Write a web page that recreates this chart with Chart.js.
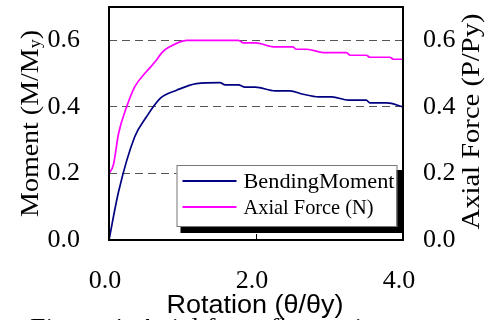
<!DOCTYPE html>
<html>
<head>
<meta charset="utf-8">
<script src="https://cdn.jsdelivr.net/npm/chart.js@4"></script>
<style>
  html, body { margin: 0; padding: 0; background: #fff; }
  #wrap { width: 496px; height: 320px; position: relative; }
</style>
</head>
<body>
<div id="wrap"><canvas id="c" width="496" height="320"></canvas></div>
<script>
// ---- data ----
const momentRotation = [0.0, 0.13, 0.35, 0.51, 0.70, 0.92, 1.19, 1.51, 1.58, 1.76, 1.85, 1.99, 2.26, 2.46, 2.64, 2.85, 3.03, 3.26, 3.50, 3.55, 3.78, 4.0];
const momentValues   = [0.0, 0.145, 0.31, 0.37, 0.426, 0.45, 0.47, 0.473, 0.466, 0.466, 0.459, 0.459, 0.448, 0.448, 0.438, 0.43, 0.43, 0.42, 0.42, 0.412, 0.412, 0.40];
const axialRotation  = [0.0, 0.06, 0.13, 0.24, 0.35, 0.51, 0.63, 0.72, 0.83, 1.06, 1.76, 1.83, 1.99, 2.26, 2.50, 2.55, 2.69, 2.92, 3.23, 3.28, 3.50, 3.55, 3.82, 3.87, 4.0];
const axialValues    = [0.20, 0.226, 0.32, 0.40, 0.46, 0.506, 0.536, 0.563, 0.581, 0.60, 0.60, 0.592, 0.592, 0.58, 0.58, 0.573, 0.573, 0.563, 0.563, 0.555, 0.555, 0.549, 0.549, 0.543, 0.543];
const seriesLabels   = ["BendingMoment", "Axial Force (N)"];
const xTickValues    = [0, 2, 4];
const yTickValues    = [0, 0.2, 0.4, 0.6];
const leftTitle      = ["Moment (M/M", "y", ")"];
const rightTitle     = "Axial Force (P/Py)";
const bottomTitle    = "Rotation (θ/θy)";
const captionText    = "Figure 4: Axial force fluctuation";

const SERIF = "'Liberation Serif', 'Times New Roman', serif";
const SANS = "'Liberation Sans', Arial, sans-serif";

function toPoints(xs, ys) { return xs.map((x, i) => ({ x: x, y: ys[i] })); }

function fitText(ctx, text, x, y, width, font, align) {
  ctx.save();
  ctx.font = font;
  const w = ctx.measureText(text).width;
  const s = width / w;
  ctx.translate(x, y);
  ctx.scale(s, 1);
  ctx.textAlign = 'left';
  let ox = 0;
  if (align === 'center') ox = -w / 2;
  ctx.fillText(text, ox, 0);
  ctx.restore();
}

const decor = {
  id: 'decor',
  afterDatasetsDraw(chart) {
    const ctx = chart.ctx;
    const a = chart.chartArea;
    ctx.save();
    // plot frame
    ctx.strokeStyle = '#000';
    ctx.lineWidth = 2;
    ctx.setLineDash([]);
    ctx.strokeRect(a.left, a.top, a.right - a.left, a.bottom - a.top);
    // inner tick marks on x axis
    const xs = chart.scales.x;
    ctx.lineWidth = 1;
    xTickValues.forEach(v => {
      const px = Math.round(xs.getPixelForValue(v)) + 0.5;
      ctx.beginPath();
      ctx.moveTo(px, a.bottom);
      ctx.lineTo(px, a.bottom - 6);
      ctx.stroke();
    });
    // legend with shadow
    const bx = a.right - 226.5, by = a.bottom - 75, bw = 220, bh = 61;
    ctx.fillStyle = '#000';
    ctx.fillRect(bx + 4, by + 5, bw + 2, bh + 2);
    ctx.fillStyle = '#fff';
    ctx.fillRect(bx, by, bw, bh);
    ctx.strokeStyle = '#777';
    ctx.lineWidth = 1;
    ctx.strokeRect(bx + 0.5, by + 0.5, bw, bh);
    chart.data.datasets.forEach((ds, i) => {
      const ly = by + 16 + i * 26;
      ctx.strokeStyle = ds.borderColor;
      ctx.lineWidth = 2;
      ctx.beginPath();
      ctx.moveTo(bx + 6, ly);
      ctx.lineTo(bx + 60, ly);
      ctx.stroke();
      ctx.fillStyle = '#000';
      ctx.textBaseline = 'middle';
      const w = i === 0 ? 151 : 130;
      fitText(ctx, ds.label, bx + 67, ly + 1, w, '21px ' + SERIF, 'left');
    });
    ctx.restore();
  },
  afterDraw(chart) {
    const ctx = chart.ctx;
    const a = chart.chartArea;
    const cy = (a.top + a.bottom) / 2;
    ctx.save();
    ctx.fillStyle = '#000';
    ctx.textBaseline = 'middle';
    // left title with subscript, rotated
    ctx.save();
    ctx.translate(31, cy);
    ctx.rotate(-Math.PI / 2);
    const fBig = '25px ' + SERIF, fSmall = '16px ' + SERIF;
    ctx.font = fBig;
    const w0 = ctx.measureText(leftTitle[0]).width;
    const w2 = ctx.measureText(leftTitle[2]).width;
    ctx.font = fSmall;
    const w1 = ctx.measureText(leftTitle[1]).width;
    const total = w0 + w1 + w2;
    const target = 187;
    ctx.scale(target / total, 1);
    let x = -total / 2;
    ctx.font = fBig; ctx.fillText(leftTitle[0], x, 0); x += w0;
    ctx.font = fSmall; ctx.fillText(leftTitle[1], x, 5); x += w1;
    ctx.font = fBig; ctx.fillText(leftTitle[2], x, 0);
    ctx.restore();
    // right title rotated
    ctx.save();
    ctx.translate(472, cy - 2);
    ctx.rotate(-Math.PI / 2);
    fitText(ctx, rightTitle, 0, 0, 216, '25px ' + SERIF, 'center');
    ctx.restore();
    // bottom title
    ctx.textBaseline = 'alphabetic';
    fitText(ctx, bottomTitle, 255, 313, 177, '26px ' + SANS, 'center');
    // caption (cut by bottom edge)
    fitText(ctx, captionText, 30, 334, 360, '24px ' + SERIF, 'left');
    ctx.restore();
  }
};

Chart.defaults.color = '#000';
Chart.defaults.font.family = SERIF;

function fixV(width) {
  return function (s) { s.width = width; s.paddingTop = 0; s.paddingBottom = 0; };
}

new Chart(document.getElementById('c'), {
  type: 'line',
  data: {
    datasets: [
      {
        label: seriesLabels[0],
        data: toPoints(momentRotation, momentValues),
        borderColor: '#000080',
        backgroundColor: '#000080',
        borderWidth: 1.7,
        pointRadius: 0,
        cubicInterpolationMode: 'monotone',
        yAxisID: 'y'
      },
      {
        label: seriesLabels[1],
        data: toPoints(axialRotation, axialValues),
        borderColor: '#FF00FF',
        backgroundColor: '#FF00FF',
        borderWidth: 1.7,
        pointRadius: 0,
        cubicInterpolationMode: 'monotone',
        yAxisID: 'y2'
      }
    ]
  },
  options: {
    responsive: false,
    animation: false,
    devicePixelRatio: 1,
    layout: { padding: { top: 7, left: 0, right: 0, bottom: 0 } },
    plugins: { legend: { display: false }, tooltip: { enabled: false } },
    scales: {
      x: {
        type: 'linear',
        min: 0, max: 4,
        afterFit(s) { s.height = 80; s.paddingLeft = 0; s.paddingRight = 0; },
        afterBuildTicks(s) { s.ticks = xTickValues.map(v => ({ value: v })); },
        grid: { display: false, drawTicks: false },
        border: { display: false },
        ticks: {
          padding: 26,
          labelOffset: -4,
          maxRotation: 0,
          font: { size: 26, family: SERIF },
          callback: v => Number(v).toFixed(1)
        }
      },
      y: {
        type: 'linear',
        position: 'left',
        min: 0, max: 0.7,
        afterFit: fixV(109),
        afterBuildTicks(s) { s.ticks = yTickValues.map(v => ({ value: v })); },
        grid: { color: '#555', lineWidth: 1, drawTicks: false },
        border: { display: false, dash: [8, 5] },
        ticks: {
          padding: 29,
          font: { size: 26, family: SERIF },
          callback: v => Number(v).toFixed(1)
        }
      },
      y2: {
        type: 'linear',
        position: 'right',
        min: 0, max: 0.7,
        afterFit: fixV(93),
        afterBuildTicks(s) { s.ticks = yTickValues.map(v => ({ value: v })); },
        grid: { display: false, drawTicks: false },
        border: { display: false },
        ticks: {
          padding: 20,
          font: { size: 26, family: SERIF },
          callback: v => Number(v).toFixed(1)
        }
      }
    }
  },
  plugins: [decor]
});
</script>
</body>
</html>
